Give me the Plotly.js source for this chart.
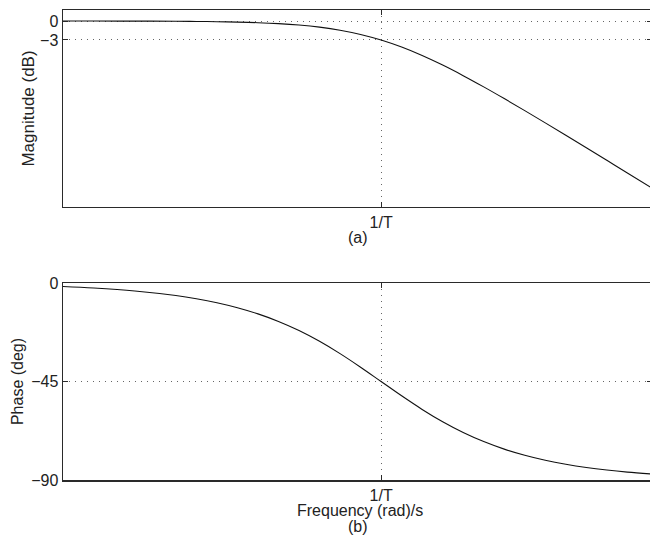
<!DOCTYPE html>
<html>
<head>
<meta charset="utf-8">
<script src="https://cdn.plot.ly/plotly-3.0.1.min.js"></script>
<style>
html,body{margin:0;padding:0;overflow:hidden;background:#fff;}
#chart{width:652px;height:537px;}
</style>
</head>
<body>
<div id="chart"></div>
<script>
// Normalised frequency (multiples of 1/T)
const freq = [0.02818, 0.03981, 0.0631, 0.1, 0.1259, 0.1585, 0.1995, 0.2512, 0.3162, 0.3981,
  0.5012, 0.631, 0.7943, 1.0, 1.2589, 1.5849, 1.9953, 2.5119, 3.1623, 3.9811,
  5.0119, 6.3096, 7.9433, 10.0, 12.589, 15.849, 20.893];
// Magnitude in dB
const magnitude = [-0.003, -0.007, -0.017, -0.043, -0.068, -0.108, -0.17, -0.266, -0.414, -0.639,
  -0.973, -1.455, -2.125, -3.01, -4.125, -5.455, -6.973, -8.639, -10.414, -12.266,
  -14.17, -16.108, -18.068, -20.043, -22.027, -24.017, -26.41];
// Phase in degrees
const phase = [-1.61, -2.28, -3.61, -5.71, -7.18, -9.0, -11.28, -14.1, -17.55, -21.7,
  -26.62, -32.25, -38.46, -45.0, -51.54, -57.75, -63.38, -68.3, -72.45, -75.9,
  -78.72, -81.0, -82.82, -84.29, -85.46, -86.39, -87.26];
const xTickVals = [1];
const xTickText = ['1/T'];
const magTickVals = [0, -3];
const magTickText = ['0', '\u22123'];
const phaseTickVals = [0, -45, -90];
const phaseTickText = ['0', '\u221245', '\u221290'];

const fam = 'Liberation Sans, Arial, sans-serif';
const font = {family: fam, size: 16, color: '#222'};
const lineCol = '#2a2a2a';

const traces = [
  {x: freq, y: magnitude, xaxis: 'x', yaxis: 'y', type: 'scatter', mode: 'lines',
   line: {color: '#111', width: 1.1, shape: 'spline'}, hoverinfo: 'skip'},
  {x: freq, y: phase, xaxis: 'x2', yaxis: 'y2', type: 'scatter', mode: 'lines',
   line: {color: '#111', width: 1.1, shape: 'spline'}, hoverinfo: 'skip'}
];

const xBase = {
  type: 'log', range: [-1.55, 1.32], showline: true, linecolor: lineCol, linewidth: 1.5,
  mirror: 'ticks', ticks: 'inside', ticklen: 5, tickcolor: lineCol, tickwidth: 1,
  tickvals: xTickVals, ticktext: xTickText, showgrid: true, gridcolor: '#666',
  griddash: '1px,5px', gridwidth: 1, zeroline: false, tickfont: font
};
const yBase = {
  showline: true, linecolor: lineCol, linewidth: 1.5, mirror: 'ticks', ticks: 'inside',
  ticklen: 5, tickcolor: lineCol, tickwidth: 1, showgrid: true, gridcolor: '#666',
  griddash: '1px,5px', gridwidth: 1, zeroline: false, tickfont: font
};

const layout = {
  width: 652, height: 537,
  margin: {l: 63, r: 0, t: 10, b: 57},
  paper_bgcolor: '#fff', plot_bgcolor: '#fff',
  showlegend: false, font: font,
  xaxis: Object.assign({}, xBase, {domain: [0, 1], anchor: 'y'}),
  yaxis: Object.assign({}, yBase, {domain: [0.5809, 1], anchor: 'x', range: [-29.4, 1.74],
    tickvals: magTickVals, ticktext: magTickText,
    title: {text: 'Magnitude (dB)', font: {family: fam, size: 17, color: '#222'}, standoff: 1}}),
  xaxis2: Object.assign({}, xBase, {domain: [0, 1], anchor: 'y2'}),
  yaxis2: Object.assign({}, yBase, {domain: [0, 0.4191], anchor: 'x2', range: [-90, 0],
    tickvals: phaseTickVals, ticktext: phaseTickText,
    title: {text: 'Phase (deg)', font: font, standoff: 3}}),
  annotations: [
    {text: '(a)', xref: 'paper', yref: 'paper', x: 0.5, y: 0.517, xanchor: 'center', yanchor: 'middle', showarrow: false, font: font},
    {text: 'Frequency (rad)/s', xref: 'paper', yref: 'paper', x: 0.505, y: -0.064, xanchor: 'center', yanchor: 'middle', showarrow: false, font: font},
    {text: '(b)', xref: 'paper', yref: 'paper', x: 0.5, y: -0.099, xanchor: 'center', yanchor: 'middle', showarrow: false, font: font}
  ]
};

Plotly.newPlot('chart', traces, layout, {staticPlot: true, displayModeBar: false});
</script>
</body>
</html>
